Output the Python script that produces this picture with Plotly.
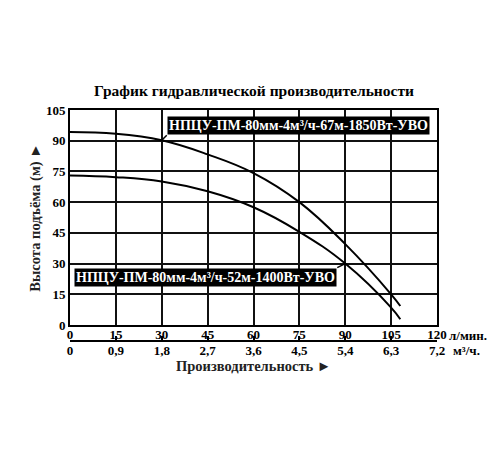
import plotly.graph_objects as go

# Расход, л/мин, и напор, м
flow_lpm = [0, 15, 30, 45, 60, 75, 90, 105, 108]
head_1850 = [94.2, 93.4, 90.2, 83.3, 74.2, 60.0, 39.5, 15.0, 9.3]
head_1400 = [73.0, 72.2, 70.1, 65.3, 57.5, 45.5, 30.0, 8.5, 2.8]

lpm_ticks = [0, 15, 30, 45, 60, 75, 90, 105, 120]
m3h_ticks = [0, 0.9, 1.8, 2.7, 3.6, 4.5, 5.4, 6.3, 7.2]
m3h_labels = ["0", "0,9", "1,8", "2,7", "3,6", "4,5", "5,4", "6,3", "7,2"]
head_ticks = [0, 15, 30, 45, 60, 75, 90, 105]

name_1850 = "НПЦУ-ПМ-80мм-4м³/ч-67м-1850Вт-УВО"
name_1400 = "НПЦУ-ПМ-80мм-4м³/ч-52м-1400Вт-УВО"

FONT = "Liberation Serif"
tick_font = dict(family=FONT, size=13, color="black", weight="bold")
box_font = dict(family=FONT, size=14, color="white", weight="bold")
title_font = dict(family=FONT, size=14.5, color="#222", weight="bold")

fig = go.Figure()
for y in (head_1850, head_1400):
    fig.add_trace(go.Scatter(
        x=flow_lpm, y=y, mode="lines",
        line=dict(color="black", width=2, shape="spline", smoothing=1.2),
        showlegend=False, hoverinfo="skip",
    ))

# invisible trace so the second (м³/ч) axis gets drawn
fig.add_trace(go.Scatter(
    x=m3h_ticks, y=[None] * len(m3h_ticks), xaxis="x2",
    mode="markers", showlegend=False, hoverinfo="skip",
))

# curve labels
fig.add_annotation(
    x=30, y=head_1850[2], ax=5, ay=-5, text=name_1850,
    xanchor="left", yanchor="bottom", showarrow=True,
    arrowhead=0, arrowwidth=1.5, arrowcolor="black",
    bgcolor="black", borderpad=1, font=box_font,
)
fig.add_annotation(
    x=90, y=head_1400[6], ax=-8, ay=4, text=name_1400,
    xanchor="right", yanchor="top", showarrow=True,
    arrowhead=0, arrowwidth=1.5, arrowcolor="black",
    bgcolor="black", borderpad=1, font=box_font,
)

# units next to the last ticks
fig.add_annotation(x=120, y=0.14, xref="x", yref="paper", yanchor="middle",
                   xanchor="left", xshift=10, yshift=-10, text="л/мин.",
                   showarrow=False, font=tick_font)
fig.add_annotation(x=7.2, y=0.076, xref="x2", yref="paper", yanchor="middle",
                   xanchor="left", xshift=14, yshift=-9, text="м³/ч.",
                   showarrow=False, font=tick_font)

fig.add_annotation(x=0.5, y=1.076, xref="paper", yref="paper", yanchor="middle",
                   text="График гидравлической производительности",
                   showarrow=False,
                   font=dict(family=FONT, size=15.5, color="black", weight="bold"))
fig.add_annotation(x=0.5, y=-0.024, xref="paper", yref="paper", yanchor="middle",
                   text="Производительность ►", showarrow=False, font=title_font)
fig.add_annotation(x=-0.095, y=0.57, xref="paper", yref="paper",
                   xanchor="center", yanchor="middle", textangle=-90,
                   text="Высота подъёма (м) ►", showarrow=False, font=title_font)

# the page adds an 8px body margin, so the margins are shifted by 8px
fig.update_layout(
    width=500, height=450,
    margin=dict(l=62, r=71, t=102, b=98),
    plot_bgcolor="white", paper_bgcolor="white",
    xaxis=dict(
        range=[0, 120], tickvals=lpm_ticks, ticks="", automargin=False,
        showgrid=True, gridcolor="#111", gridwidth=2, ticklabelstandoff=-4,
        showline=True, linecolor="black", linewidth=2, mirror=True,
        zeroline=False, tickfont=tick_font, anchor="y",
    ),
    xaxis2=dict(
        range=[0, 7.2], tickvals=m3h_ticks, ticktext=m3h_labels,
        overlaying="x", side="bottom", anchor="free", position=0.076,
        showgrid=False, zeroline=False, automargin=False,
        showline=True, linecolor="black", linewidth=2,
        ticks="inside", ticklen=4, tickwidth=2, tickcolor="black",
        tickfont=tick_font, ticklabelstandoff=-3,
    ),
    yaxis=dict(
        range=[0, 105], tickvals=head_ticks, ticks="", domain=[0.14, 1],
        showgrid=True, gridcolor="#111", gridwidth=2, automargin=False,
        showline=True, linecolor="black", linewidth=2, mirror=True,
        zeroline=False, tickfont=tick_font,
    ),
)

fig.write_html("out.html")
